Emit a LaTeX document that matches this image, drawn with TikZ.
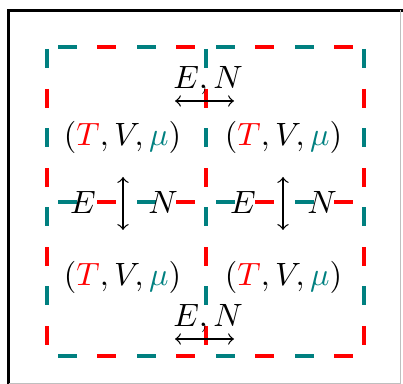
\documentclass[tikz,border=0pt]{standalone}
\usetikzlibrary{arrows}
\definecolor{myteal}{RGB}{0,128,128}
\definecolor{myred}{RGB}{255,0,0}
\begin{document}
\begin{tikzpicture}[x=0.31pt,y=-0.31pt,
  tealdash/.style={myteal,line width=1.2pt,dash pattern=on 5.9pt off 18.6pt},
  reddash/.style={myred,line width=1.2pt,dash pattern=on 5.9pt off 18.6pt},
  frameline/.style={black,line width=1.2pt},
  shadowline/.style={black!25,line width=0.3pt},
  lbl/.style={inner sep=0pt},
  dbl/.style={<->,>=to,line width=0.4pt}]
\useasboundingbox (0,0) rectangle (403,384);
% frame
\draw[frameline] (8.5,384) -- (8.5,10.5) -- (403,10.5);
\draw[shadowline] (400,10.5) -- (400,384);
\draw[shadowline] (8.5,383.5) -- (400,383.5);
% horizontal dashed lines
\foreach \yy in {47,202,356} {
  \draw[tealdash] (58,\yy) -- (364,\yy);
  \draw[reddash] (97,\yy) -- (364,\yy);
}
% vertical dashed lines
\foreach \xx in {47,206,364} {
  \draw[tealdash] (\xx,49) -- (\xx,356);
  \draw[reddash] (\xx,89) -- (\xx,356);
}
% state labels
\node[lbl] (tl) at (122.5,137.5) {$({\color{myred}T}, V, {\color{myteal}\mu})$};
\node[lbl] (tr) at (283.5,137.5) {$({\color{myred}T}, V, {\color{myteal}\mu})$};
\node[lbl] (bl) at (122.5,277) {$({\color{myred}T}, V, {\color{myteal}\mu})$};
\node[lbl] (br) at (283.5,277) {$({\color{myred}T}, V, {\color{myteal}\mu})$};
% top / bottom exchange
\node[lbl,anchor=base] (ent) at (208,89) {$E,N$};
\coordinate (at1) at (175,101);
\coordinate (at2) at (234,101);
\draw[dbl] (at1) -- (at2);
\node[lbl,anchor=base] (enb) at (208,327) {$E,N$};
\coordinate (ab1) at (175,339);
\coordinate (ab2) at (234,339);
\draw[dbl] (ab1) -- (ab2);
% middle row
\node[lbl] (el) at (83,202) {$E$};
\node[lbl] (nl) at (163,202) {$N$};
\coordinate (al1) at (123,177);
\coordinate (al2) at (123,230);
\draw[dbl] (al1) -- (al2);
\node[lbl] (er) at (243,202) {$E$};
\node[lbl] (nr) at (322,202) {$N$};
\coordinate (ar1) at (283,177);
\coordinate (ar2) at (283,230);
\draw[dbl] (ar1) -- (ar2);
\end{tikzpicture}
\end{document}
